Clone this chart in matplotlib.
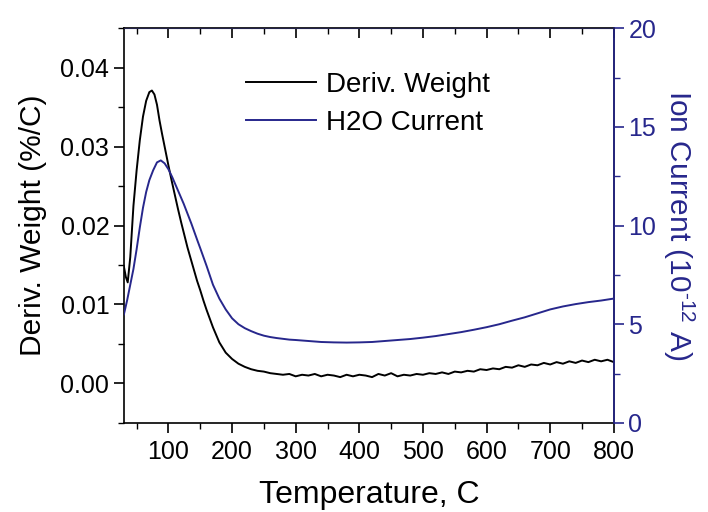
import matplotlib
matplotlib.use("Agg")
import matplotlib.pyplot as plt
from matplotlib.ticker import MultipleLocator, FormatStrFormatter
from matplotlib.lines import Line2D

plt.rcParams['font.family'] = ['Liberation Sans', 'DejaVu Sans']
plt.rcParams['mathtext.fontset'] = 'custom'
plt.rcParams['mathtext.rm'] = 'Liberation Sans'
plt.rcParams['mathtext.it'] = 'Liberation Sans'
plt.rcParams['mathtext.default'] = 'regular'

# Deriv. Weight (%/C) vs temperature (C)
temp_w = [30, 33, 36, 40, 45, 50, 55, 60, 65, 70, 74, 78, 82, 86, 90, 95, 100, 105, 110,
          115, 120, 125, 130, 135, 140, 145, 150, 155, 160, 165, 170, 180, 190, 200, 210,
          220, 230, 240, 250, 260, 270, 280, 290, 300, 310, 320, 330, 340, 350, 360, 370,
          380, 390, 400, 410, 420, 430, 440, 450, 460, 470, 480, 490, 500, 510, 520, 530,
          540, 550, 560, 570, 580, 590, 600, 610, 620, 630, 640, 650, 660, 670, 680, 690,
          700, 710, 720, 730, 740, 750, 760, 770, 780, 790, 800]
deriv_weight = [0.0148, 0.0135, 0.0128, 0.0160, 0.0225, 0.0270, 0.0308, 0.0338, 0.0358,
                0.0369, 0.0371, 0.0366, 0.0353, 0.0333, 0.0316, 0.0296, 0.0276, 0.0257,
                0.0239, 0.0221, 0.0204, 0.0188, 0.0172, 0.0158, 0.0144, 0.0130, 0.0118,
                0.0105, 0.0093, 0.0082, 0.0071, 0.0052, 0.0039, 0.0031, 0.0025, 0.0021,
                0.0018, 0.0016, 0.0015, 0.0013, 0.0012, 0.0011, 0.0012, 0.0009, 0.0011,
                0.0010, 0.0012, 0.0009, 0.0011, 0.0010, 0.0008, 0.0011, 0.0009, 0.0011,
                0.0010, 0.0008, 0.0012, 0.0010, 0.0013, 0.0009, 0.0011, 0.0010, 0.0012,
                0.0011, 0.0013, 0.0012, 0.0014, 0.0012, 0.0015, 0.0014, 0.0016, 0.0015,
                0.0018, 0.0017, 0.0019, 0.0018, 0.0021, 0.0020, 0.0023, 0.0021, 0.0024,
                0.0023, 0.0026, 0.0024, 0.0027, 0.0025, 0.0028, 0.0026, 0.0029, 0.0027,
                0.0030, 0.0028, 0.0030, 0.0027]

# H2O ion current (1e-12 A) vs temperature (C)
temp_i = [30, 35, 40, 45, 50, 55, 60, 65, 70, 76, 82, 88, 94, 100, 106, 112, 118, 124,
          130, 136, 146, 150, 160, 170, 180, 190, 200, 210, 220, 230, 240, 250, 260, 270,
          280, 290, 300, 320, 340, 360, 380, 400, 420, 440, 460, 480, 500, 520, 540, 560,
          580, 600, 620, 640, 660, 680, 700, 720, 740, 760, 780, 800]
ion_current = [5.5, 6.2, 7.0, 7.8, 8.8, 9.9, 10.9, 11.7, 12.3, 12.8, 13.2, 13.3, 13.15,
               12.85, 12.45, 12.0, 11.55, 11.1, 10.6, 10.1, 9.2, 8.85, 7.95, 7.0, 6.3, 5.75,
               5.3, 5.0, 4.8, 4.65, 4.52, 4.42, 4.35, 4.3, 4.26, 4.22, 4.2, 4.15, 4.1,
               4.08, 4.07, 4.08, 4.1, 4.15, 4.2, 4.25, 4.32, 4.4, 4.5, 4.6, 4.72, 4.85,
               5.0, 5.18, 5.35, 5.55, 5.75, 5.9, 6.02, 6.12, 6.2, 6.3]

labels = ["Deriv. Weight", "H2O Current"]
blue = "#27278c"

fig = plt.figure(figsize=(7.08, 5.12), dpi=100)
ax = fig.add_axes([0.175, 0.174, 0.692, 0.771])
ax2 = ax.twinx()

ax.plot(temp_w, deriv_weight, color="black", lw=1.4)
ax2.plot(temp_i, ion_current, color=blue, lw=1.4)

ax.set_xlim(30, 800)
ax.set_ylim(-0.005, 0.045)
ax2.set_ylim(0, 20)

ax.xaxis.set_major_locator(MultipleLocator(100))
ax.xaxis.set_minor_locator(MultipleLocator(50))
ax.yaxis.set_major_locator(MultipleLocator(0.01))
ax.yaxis.set_minor_locator(MultipleLocator(0.005))
ax2.yaxis.set_major_locator(MultipleLocator(5))
ax2.yaxis.set_minor_locator(MultipleLocator(2.5))
ax.yaxis.set_major_formatter(FormatStrFormatter('%.2f'))

ax.tick_params(axis='x', which='both', direction='out', top=True, labelsize=18)
ax.tick_params(axis='x', which='major', length=7, width=1.2, pad=5)
ax.tick_params(axis='x', which='minor', length=4, width=1.0)
ax.tick_params(axis='y', which='major', direction='out', length=7, width=1.2, labelsize=18)
ax.tick_params(axis='y', which='minor', direction='out', length=4, width=1.0)
ax2.tick_params(axis='y', which='major', direction='out', length=7, width=1.2,
                labelsize=18, colors=blue)
ax2.tick_params(axis='y', which='minor', direction='out', length=4, width=1.0, colors=blue)

# top ticks point inward
for t in ax.xaxis.get_major_ticks() + ax.xaxis.get_minor_ticks():
    t.tick2line.set_marker(matplotlib.lines.TICKDOWN)

for s in ax.spines.values():
    s.set_linewidth(1.2)
ax2.spines['right'].set_color(blue)
ax2.spines['right'].set_linewidth(1.2)
ax2.spines['top'].set_color('#22224a')
ax2.spines['left'].set_visible(False)
ax2.spines['bottom'].set_visible(False)

ax.set_xlabel("Temperature, C", fontsize=23, labelpad=12)
ax.set_ylabel("Deriv. Weight (%/C)", fontsize=21.5, labelpad=10)
ax2.set_ylabel(r"Ion Current (10$^{\text{-}12}$ A)", fontsize=21.5, color=blue,
               rotation=270, labelpad=29)

handles = [Line2D([], [], color="black", lw=1.4), Line2D([], [], color=blue, lw=1.4)]
ax2.legend(handles, labels, loc='upper left', bbox_to_anchor=(0.25, 0.89), frameon=False,
           fontsize=20, handlelength=2.5, handletextpad=0.35, labelspacing=0.45,
           borderpad=0, borderaxespad=0)

fig.savefig("out.png", dpi=100)
